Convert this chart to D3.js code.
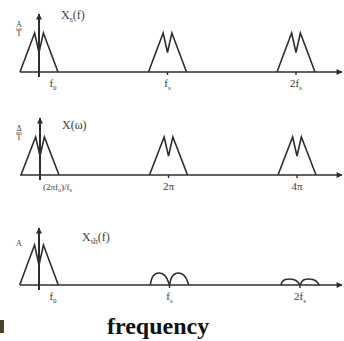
<!DOCTYPE html>
<html>
<head>
<meta charset="utf-8">
<script src="https://cdn.jsdelivr.net/npm/d3@7"></script>
<style>
  body { margin: 0; background: #fff; }
  svg { display: block; }
  text { font-family: 'Liberation Serif', 'DejaVu Serif', serif; fill: #3a3a3a; }
</style>
</head>
<body>
<script>
// harmonics, in multiples of fs
const harmonics = [0, 1, 2];
// relative peak height of each image
const sampledPeaks = [1, 1, 1];
const omegaPeaks = [1, 1, 1];
const holdPeaks = [1, 0.3, 0.15];

// tick labels (main text + subscript)
const freqTicks = [['f', '0'], ['f', 's'], ['2f', 's']];
const omegaTicks = [['', ''], ['2\u03c0', ''], ['4\u03c0', '']];
const holdTicks = [['f', '0'], ['f', 's'], ['2f', 's']];

// spectrum outline: [offset in fs, amplitude]
const mShape = [[-0.148, 0], [-0.034, 1], [0, 0.5], [0.034, 1], [0.148, 0]];
// one lobe of the hold spectrum: [fraction of lobe, amplitude]
const archShape = [[0, 0], [0.1, 0.6], [0.25, 0.9], [0.45, 1], [0.65, 0.92], [0.85, 0.6], [1, 0]];

const width = 344;
const height = 341;
const ink = '#2e2e2e';

const svg = d3.select('body').append('svg')
  .attr('width', width)
  .attr('height', height);

svg.append('defs').append('marker')
  .attr('id', 'arrow')
  .attr('viewBox', '0 0 10 10')
  .attr('refX', 9).attr('refY', 5)
  .attr('markerWidth', 7).attr('markerHeight', 6)
  .attr('markerUnits', 'userSpaceOnUse')
  .attr('orient', 'auto')
  .append('path')
  .attr('d', 'M0,0L10,5L0,10Z')
  .attr('fill', ink);

const panels = [
  { base: 72, peak: 33, top: 14, range: [39, 296], peaks: sampledPeaks, ticks: freqTicks, title: ['X', 's', '(f)'], titleX: 61, titleY: 19, amp: ['A', 'T'], ampY: 27, arch: false },
  { base: 175, peak: 137, top: 118, range: [40, 297], peaks: omegaPeaks, ticks: omegaTicks, title: ['X(\u03c9)', '', ''], titleX: 62, titleY: 129, amp: ['\u0394', 'T'], ampY: 131, arch: false },
  { base: 285, peak: 245, top: 228, range: [39, 300], peaks: holdPeaks, ticks: holdTicks, title: ['X', 'sh', '(f)'], titleX: 82, titleY: 241, amp: ['A', null], ampY: 246, arch: true }
];

panels.forEach((p) => {
  const g = svg.append('g').attr('class', 'panel');
  const x = d3.scaleLinear().domain([0, 2]).range(p.range);
  const y = d3.scaleLinear().domain([0, 1]).range([p.base, p.peak]);

  // horizontal axis
  g.append('line')
    .attr('x1', 20).attr('x2', 342)
    .attr('y1', p.base).attr('y2', p.base)
    .attr('stroke', ink).attr('stroke-width', 1.6)
    .attr('marker-end', 'url(#arrow)');

  // vertical axis
  g.append('line')
    .attr('x1', x(0)).attr('x2', x(0))
    .attr('y1', p.base + 5).attr('y2', p.top)
    .attr('stroke', ink).attr('stroke-width', 2)
    .attr('marker-end', 'url(#arrow)');

  // ticks at the images
  g.selectAll('line.tick')
    .data(harmonics.slice(1))
    .enter()
    .append('line')
    .attr('class', 'tick')
    .attr('x1', (d) => x(d)).attr('x2', (d) => x(d))
    .attr('y1', p.base).attr('y2', p.base + 3)
    .attr('stroke', ink).attr('stroke-width', 1.4);

  const line = d3.line().x((d) => d[0]).y((d) => d[1]);

  harmonics.forEach((h, i) => {
    const amp = p.peaks[i];
    if (p.arch && h > 0) {
      // two lobes either side of the image
      [-1, 0].forEach((side) => {
        const halfW = 0.148;
        const pts = archShape.map((d) => [x(h + (side + d[0]) * halfW), y(d[1] * amp)]);
        g.append('path')
          .attr('d', line.curve(d3.curveMonotoneX)(pts))
          .attr('fill', 'none')
          .attr('stroke', ink).attr('stroke-width', 1.6);
      });
    } else {
      const pts = mShape.map((d) => [x(h + d[0]), y(d[1] * amp)]);
      g.append('path')
        .attr('d', line.curve(d3.curveLinear)(pts))
        .attr('fill', 'none')
        .attr('stroke', ink).attr('stroke-width', 1.6)
        .attr('stroke-linejoin', 'miter');
    }
  });

  // tick labels
  const labels = g.selectAll('text.xlab')
    .data(harmonics)
    .enter()
    .append('text')
    .attr('class', 'xlab')
    .attr('x', (d) => (d === 0 ? x(0) + 14 : x(d)))
    .attr('y', p.base + 15)
    .attr('text-anchor', 'middle')
    .style('font-size', '11px');
  labels.append('tspan').text((d) => p.ticks[d][0]);
  labels.append('tspan')
    .attr('dy', 2.5)
    .style('font-size', '7px')
    .text((d) => p.ticks[d][1]);

  // panel title
  const title = g.append('text')
    .attr('x', p.titleX).attr('y', p.titleY)
    .style('font-size', '12px');
  title.append('tspan').text(p.title[0]);
  if (p.title[1]) {
    title.append('tspan').attr('dy', 2.5).style('font-size', '8px').text(p.title[1]);
    title.append('tspan').attr('dy', -2.5).text(p.title[2]);
  }

  // amplitude mark
  g.append('text')
    .attr('x', 19).attr('y', p.ampY)
    .attr('text-anchor', 'middle')
    .style('font-size', '8px')
    .text(p.amp[0]);
  if (p.amp[1]) {
    g.append('line')
      .attr('x1', 16).attr('x2', 22)
      .attr('y1', p.ampY + 2).attr('y2', p.ampY + 2)
      .attr('stroke', '#555').attr('stroke-width', 0.8);
    g.append('text')
      .attr('x', 19).attr('y', p.ampY + 9)
      .attr('text-anchor', 'middle')
      .style('font-size', '8px')
      .text(p.amp[1]);
  }
});

// normalised frequency label on the omega axis
const omegaLab = svg.append('text')
  .attr('x', 43).attr('y', 190)
  .style('font-size', '9px');
omegaLab.append('tspan').text('(2\u03c0f');
omegaLab.append('tspan').attr('dy', 2).style('font-size', '6px').text('o');
omegaLab.append('tspan').attr('dy', -2).text(')/f');
omegaLab.append('tspan').attr('dy', 2).style('font-size', '6px').text('s');

// bottom caption
svg.append('text')
  .attr('x', 107).attr('y', 334)
  .style('font-size', '24px')
  .style('font-weight', 'bold')
  .style('fill', '#111')
  .text('frequency');

// small dark block at the lower left
svg.append('rect')
  .attr('x', 0).attr('y', 320)
  .attr('width', 4).attr('height', 13)
  .attr('fill', '#4a4620');
</script>
</body>
</html>
